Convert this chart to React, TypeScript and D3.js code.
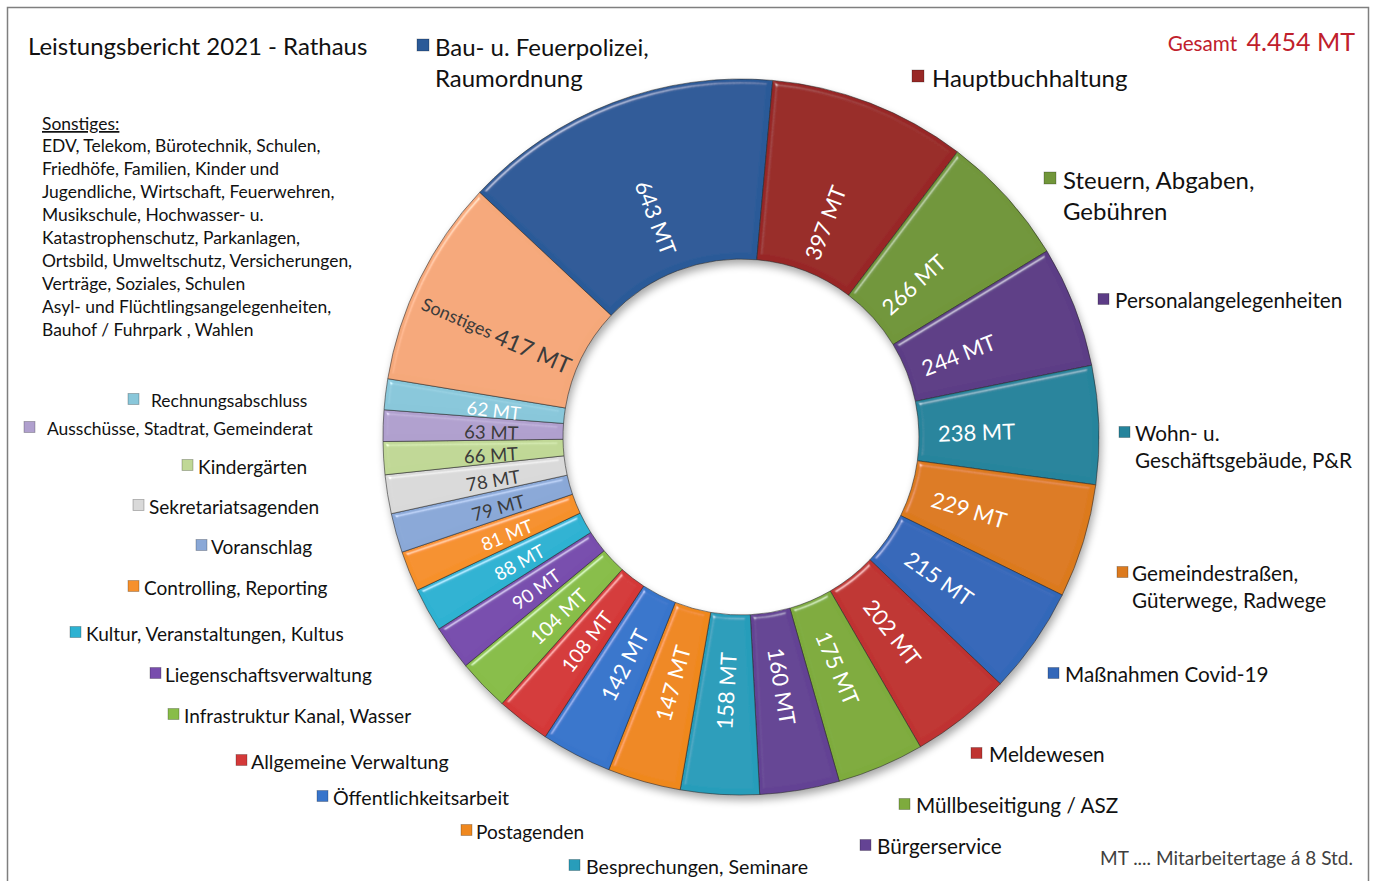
import React from 'react';
import * as d3 from 'd3';

// Leistungsbericht 2021 - Rathaus (Mitarbeitertage je Bereich)
const names = [
  'Bau- u. Feuerpolizei, Raumordnung',
  'Hauptbuchhaltung',
  'Steuern, Abgaben, Gebühren',
  'Personalangelegenheiten',
  'Wohn- u. Geschäftsgebäude, P&R',
  'Gemeindestraßen, Güterwege, Radwege',
  'Maßnahmen Covid-19',
  'Meldewesen',
  'Müllbeseitigung / ASZ',
  'Bürgerservice',
  'Besprechungen, Seminare',
  'Postagenden',
  'Öffentlichkeitsarbeit',
  'Allgemeine Verwaltung',
  'Infrastruktur Kanal, Wasser',
  'Liegenschaftsverwaltung',
  'Kultur, Veranstaltungen, Kultus',
  'Controlling, Reporting',
  'Voranschlag',
  'Sekretariatsagenden',
  'Kindergärten',
  'Ausschüsse, Stadtrat, Gemeinderat',
  'Rechnungsabschluss',
  'Sonstiges',
];
const values = [643, 397, 266, 244, 238, 229, 215, 202, 175, 160, 158, 147, 142, 108, 104, 90, 88, 81, 79, 78, 66, 63, 62, 417];
const total = '4.454 MT';

const sonstigesLines = [
  'EDV, Telekom, Bürotechnik, Schulen,',
  'Friedhöfe, Familien, Kinder und',
  'Jugendliche, Wirtschaft, Feuerwehren,',
  'Musikschule, Hochwasser- u.',
  'Katastrophenschutz, Parkanlagen,',
  'Ortsbild, Umweltschutz, Versicherungen,',
  'Verträge, Soziales,  Schulen',
  'Asyl- und Flüchtlingsangelegenheiten,',
  'Bauhof / Fuhrpark , Wahlen',
];

// styling
const colors = [
  '#2b5a98', '#982826', '#71963a', '#5c3c86', '#25849c', '#dc7a1e',
  '#3367b9', '#bf3330', '#7eab3d', '#644394', '#289dba', '#ef881f',
  '#3875cb', '#d43939', '#88bd48', '#784dad', '#2db2d2', '#f6902c',
  '#8aa8d7', '#d9d9d9', '#c0d896', '#b0a0ce', '#89c7da', '#f5a87a',
];
const darkText = new Set([18, 19, 20, 21, 23]);

// legend layout: [squareX, textY, fontSize, label ('|' = line break), gap square->text]
const legendLayout: [number, number, number, string, number][] = [
  [417, 46, 22, 'Bau- u. Feuerpolizei,|Raumordnung', 18],
  [912, 77, 22, 'Hauptbuchhaltung', 20],
  [1044, 179, 22, 'Steuern, Abgaben,|Gebühren', 19],
  [1098, 300, 19, 'Personalangelegenheiten', 17],
  [1119, 433, 19, 'Wohn- u.|Geschäftsgebäude, P&R', 16],
  [1117, 573, 19, 'Gemeindestraßen,|Güterwege, Radwege', 15],
  [1048, 674, 19, 'Maßnahmen Covid-19', 17],
  [971, 754, 19, 'Meldewesen', 18],
  [899, 805, 19, 'Müllbeseitigung / ASZ', 17],
  [860, 846, 19, 'Bürgerservice', 17],
  [569, 866, 18, 'Besprechungen, Seminare', 17],
  [461, 831, 17.5, 'Postagenden', 15],
  [317, 797, 18, 'Öffentlichkeitsarbeit', 16],
  [236, 761, 18, 'Allgemeine Verwaltung', 15],
  [168, 715, 17.5, 'Infrastruktur Kanal, Wasser', 16],
  [150, 674, 17.5, 'Liegenschaftsverwaltung', 15],
  [70, 633, 17.5, 'Kultur, Veranstaltungen, Kultus', 16],
  [128, 587, 17.5, 'Controlling, Reporting', 16],
  [196, 546, 17.5, 'Voranschlag', 15],
  [133, 506, 17.5, 'Sekretariatsagenden', 16],
  [182, 466, 17.5, 'Kindergärten', 16],
  [24, 428, 16, 'Ausschüsse, Stadtrat, Gemeinderat', 23],
  [128, 400, 16, 'Rechnungsabschluss', 23],
];

const W = 1373;
const H = 881;
const cx = 741;
const cy = 437;
const outerR = 358;
const innerR = 178;
const labelR = 243;
const startDeg = -46.9;
const k = 1.09; // Lato -> Calibri width
const font = 'Lato, "Open Sans", sans-serif';

const App = () => {
  const start = (startDeg * Math.PI) / 180;
  const pie = d3.pie<number>().sort(null).value(d => d).startAngle(start).endAngle(start + 2 * Math.PI);
  const arcs = pie(values);
  const arc = d3.arc<d3.PieArcDatum<number>>().innerRadius(innerR).outerRadius(outerR);
  const ring = d3.arc()({ innerRadius: innerR, outerRadius: outerR, startAngle: 0, endAngle: 2 * Math.PI }) as string;

  return (
    <svg width={W} height={H} style={{ display: 'block', position: 'absolute', left: 0, top: 0, background: '#fff' }} fontFamily={font}>
      <defs>
        <filter id="bevel" x="-5%" y="-5%" width="110%" height="110%">
          <feGaussianBlur in="SourceAlpha" stdDeviation="2.5" result="blur" />
          <feSpecularLighting in="blur" surfaceScale="4" specularConstant="0.6" specularExponent="45" lightingColor="#ffffff" result="spec">
            <feDistantLight azimuth="235" elevation="40" />
          </feSpecularLighting>
          <feComposite in="spec" in2="SourceAlpha" operator="in" result="specIn" />
          <feComposite in="SourceGraphic" in2="specIn" operator="arithmetic" k1="0" k2="1" k3="0.7" k4="0" />
        </filter>
        <filter id="shadow" x="-10%" y="-10%" width="120%" height="120%">
          <feGaussianBlur stdDeviation="4" />
        </filter>
      </defs>

      <rect x={7.5} y={7.5} width={1361} height={H} fill="none" stroke="#7f7f7f" strokeWidth={1.5} />

      <text x={28} y={55} fontSize={22 * k} fill="#111">Leistungsbericht 2021 - Rathaus</text>
      <text x={1355} y={51} textAnchor="end" fill="#c0202c">
        <tspan fontSize={19 * k}>Gesamt </tspan>
        <tspan fontSize={23 * k} dx={4}>{total}</tspan>
      </text>

      <text x={42} y={130} fontSize={16 * k} fill="#111" textDecoration="underline">Sonstiges:</text>
      {sonstigesLines.map((l, i) => (
        <text key={l} x={42} y={152 + i * 23} fontSize={16 * k} fill="#111">{l}</text>
      ))}

      <text x={1353} y={865} textAnchor="end" fontSize={19} fill="#404040">MT .... Mitarbeitertage á 8 Std.</text>

      <g transform={`translate(${cx},${cy})`}>
        <path d={ring} transform="translate(2,5)" fill="#000" opacity={0.35} filter="url(#shadow)" />
        {arcs.map((a, i) => (
          <path key={names[i]} d={arc(a) as string} fill={colors[i]} stroke="rgba(40,40,40,0.55)" strokeWidth={1} filter="url(#bevel)" />
        ))}
        {arcs.map((a, i) => {
          const last = i === values.length - 1;
          const mid = (a.startAngle + a.endAngle) / 2 - (last ? 0.05 : 0);
          const r = labelR - 7 * Math.sin(mid) - 8 * Math.cos(mid) + (last ? 20 : 0);
          const x = Math.sin(mid) * r;
          const y = -Math.cos(mid) * r + 3;
          let deg = (mid * 180) / Math.PI - 90;
          deg = ((deg % 360) + 540) % 360 - 180;
          if (deg > 90) deg -= 180;
          if (deg < -90) deg += 180;
          const v = values[i];
          const fs = v >= 140 ? 22 : v >= 100 ? 20 : 18.5;
          const fill = darkText.has(i) ? '#3b3b3b' : '#ffffff';
          return (
            <text key={`l${i}`} transform={`translate(${x},${y}) rotate(${deg})`} textAnchor="middle" dominantBaseline="central" fill={fill} fontSize={fs}>
              {last ? (
                <>
                  <tspan fontSize={18}>Sonstiges </tspan>
                  <tspan fontSize={23}>{`${v} MT`}</tspan>
                </>
              ) : `${v} MT`}
            </text>
          );
        })}
      </g>

      {legendLayout.map(([sx, ty, fs, label, gap], i) => {
        const lines = label.split('|');
        const sz = fs >= 20 ? 12 : 11;
        const lh = fs >= 20 ? 31 : 27;
        return (
          <g key={`lg${i}`}>
            <rect x={sx} y={ty - sz / 2 - 1} width={sz} height={sz} fill={colors[i]} stroke="rgba(0,0,0,0.3)" strokeWidth={0.8} />
            {lines.map((ln, j) => (
              <text key={ln} x={sx + gap} y={ty + j * lh} dominantBaseline="central" fontSize={fs * k} fill="#111">{ln}</text>
            ))}
          </g>
        );
      })}
    </svg>
  );
};

export default App;
